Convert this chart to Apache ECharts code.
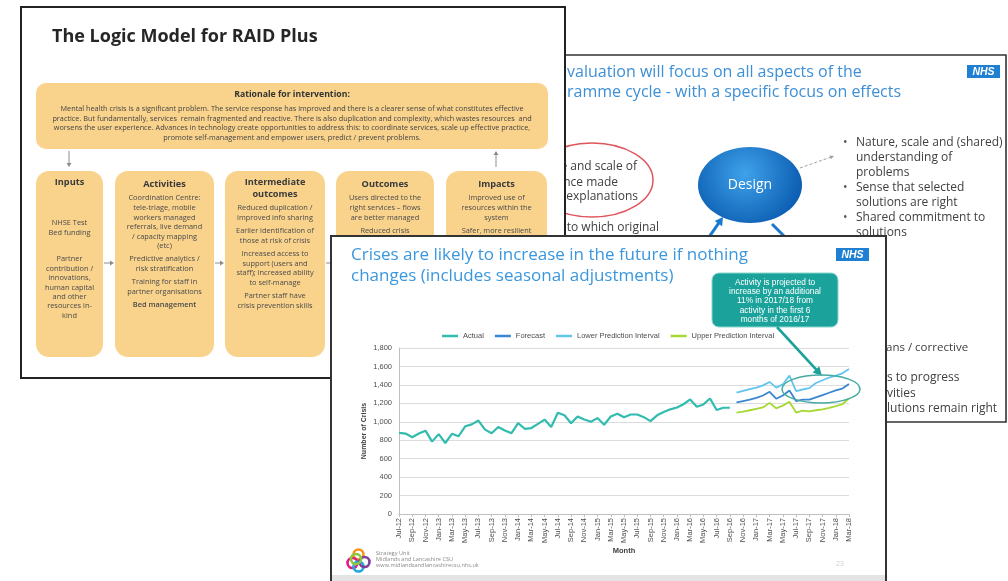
<!DOCTYPE html>
<html>
<head>
<meta charset="utf-8">
<script src="https://cdn.jsdelivr.net/npm/echarts@6/dist/echarts.min.js"></script>
<style>
  html, body { margin: 0; padding: 0; background: #fff; }
  #main { width: 1008px; height: 581px; }
</style>
</head>
<body>
<div id="main"></div>
<script>
// months on the x axis (Jul-12 .. Mar-18)
var months = [
  "Jul-12", "Aug-12", "Sep-12", "Oct-12", "Nov-12", "Dec-12",
  "Jan-13", "Feb-13", "Mar-13", "Apr-13", "May-13", "Jun-13", "Jul-13", "Aug-13", "Sep-13", "Oct-13", "Nov-13", "Dec-13",
  "Jan-14", "Feb-14", "Mar-14", "Apr-14", "May-14", "Jun-14", "Jul-14", "Aug-14", "Sep-14", "Oct-14", "Nov-14", "Dec-14",
  "Jan-15", "Feb-15", "Mar-15", "Apr-15", "May-15", "Jun-15", "Jul-15", "Aug-15", "Sep-15", "Oct-15", "Nov-15", "Dec-15",
  "Jan-16", "Feb-16", "Mar-16", "Apr-16", "May-16", "Jun-16", "Jul-16", "Aug-16", "Sep-16", "Oct-16", "Nov-16", "Dec-16",
  "Jan-17", "Feb-17", "Mar-17", "Apr-17", "May-17", "Jun-17", "Jul-17", "Aug-17", "Sep-17", "Oct-17", "Nov-17", "Dec-17",
  "Jan-18", "Feb-18", "Mar-18"
];

// Jul-12 .. Sep-16
var actual = [
  880, 872, 832, 872, 904, 785,
  866, 770, 870, 843, 951, 972, 1013, 915, 876, 944, 906, 876,
  985, 924, 932, 978, 1024, 943, 1097, 1070, 984, 1057, 1024, 1000,
  1040, 968, 1057, 1087, 1049, 1079, 1079, 1050, 1007, 1070, 1105, 1135,
  1155, 1190, 1242, 1163, 1188, 1253, 1127, 1152, 1152
];

// Oct-16 .. Mar-18
var forecast = [1210, 1225, 1240, 1260, 1285, 1325, 1250, 1285, 1340, 1225, 1240, 1240, 1265, 1290, 1315, 1340, 1360, 1410];
var lowerPI  = [1315, 1335, 1355, 1370, 1395, 1432, 1370, 1405, 1500, 1333, 1350, 1365, 1420, 1450, 1480, 1500, 1525, 1572];
var upperPI  = [1100, 1110, 1125, 1140, 1155, 1205, 1145, 1175, 1218, 1100, 1120, 1112, 1125, 1135, 1150, 1170, 1190, 1255];

var seriesNames = ["Actual", "Forecast", "Lower Prediction Interval", "Upper Prediction Interval"];
var yTicks = [0, 200, 400, 600, 800, 1000, 1200, 1400, 1600, 1800];

// pad the short series so they sit on the right months
function padFront(arr) {
  var out = [];
  for (var i = 0; i < months.length - arr.length; i++) out.push(null);
  return out.concat(arr);
}
function padBack(arr) {
  var out = arr.slice();
  while (out.length < months.length) out.push(null);
  return out;
}

var SLIDE_FONT = '"Open Sans", "Noto Sans", sans-serif';
var CHART_FONT = '"Liberation Sans", Arial, sans-serif';

// ---- little drawing helpers for the slide decoration ----
function T(x, y, text, o) {
  o = o || {};
  return {
    type: "text", z: o.z, silent: true,
    style: {
      text: text, x: x, y: y,
      fill: o.c || "#404040",
      fontSize: o.s || 7,
      fontFamily: o.f || SLIDE_FONT,
      fontWeight: o.w || "normal",
      fontStyle: o.i || "normal",
      align: o.a || "left", textAlign: o.a || "left",
      verticalAlign: "middle", textVerticalAlign: "middle"
    }
  };
}
function R(x, y, w, h, o) {
  return {
    type: "rect", z: o.z, silent: true,
    shape: { x: x, y: y, width: w, height: h, r: o.r || 0 },
    style: { fill: o.fill || "none", stroke: o.stroke || null, lineWidth: o.lw || 1 }
  };
}
function arrow(x1, y1, x2, y2, o) {
  var dx = x2 - x1, dy = y2 - y1, len = Math.sqrt(dx * dx + dy * dy);
  var ux = dx / len, uy = dy / len, hl = o.hl || 5, hw = (o.hw || 4) / 2;
  var bx = x2 - ux * hl, by = y2 - uy * hl;
  return [
    { type: "line", z: o.z, silent: true,
      shape: { x1: x1, y1: y1, x2: bx + ux * 0.5, y2: by + uy * 0.5 },
      style: { stroke: o.c, lineWidth: o.lw || 1, lineDash: o.dash || null } },
    { type: "polygon", z: o.z, silent: true,
      shape: { points: [[x2, y2], [bx - uy * hw, by + ux * hw], [bx + uy * hw, by - ux * hw]] },
      style: { fill: o.c } }
  ];
}
function nhs(x, y, z) {
  return [
    R(x, y, 33, 13, { fill: "#1f7fd3", z: z }),
    T(x + 16.5, y + 6.8, "NHS", { c: "#fff", s: 10.5, w: "bold", i: "italic", a: "center", f: CHART_FONT, z: z })
  ];
}

var els = [];
function add(a) { els = els.concat(a); }

// ---------- slide 2 (back, right) ----------
var z2 = -30;
add(R(500, 55, 506, 367, { fill: "#fff", stroke: "#333", lw: 1.6, z: z2 }));
add(T(567, 72, "valuation will focus on all aspects of the", { c: "#3d8fd6", s: 16, z: z2 }));
add(T(567, 92, "ramme cycle - with a specific focus on effects", { c: "#3d8fd6", s: 16, z: z2 }));
add(nhs(967, 65, z2));
add({ type: "ellipse", z: z2, silent: true, shape: { cx: 592, cy: 180, rx: 61, ry: 37 },
      style: { fill: "none", stroke: "#e0555c", lineWidth: 1.5 } });
add(T(637, 167, "Nature and scale of", { s: 12, a: "right", z: z2 }));
add(T(618, 183, "Evidence made", { s: 12, a: "right", z: z2 }));
add(T(638, 197, "and explanations", { s: 12, a: "right", z: z2 }));
add(T(659, 228, "Extent to which original", { s: 12, a: "right", z: z2 }));
add({ type: "ellipse", z: z2, silent: true, shape: { cx: 750, cy: 185, rx: 52, ry: 38 },
      style: { fill: { type: "radial", x: 0.45, y: 0.35, r: 0.75,
        colorStops: [{ offset: 0, color: "#3fa2ea" }, { offset: 1, color: "#0d5fb3" }] } } });
add(T(750, 185, "Design", { c: "#fff", s: 14, a: "center", z: z2 }));
add(arrow(800, 168, 834, 156, { c: "#a0a0a0", lw: 1, dash: [3, 2], hl: 4, hw: 4, z: z2 }));
add(arrow(700, 250, 723, 217, { c: "#1b78cf", lw: 3, hl: 8, hw: 9, z: z2 }));
add(arrow(772, 224, 800, 252, { c: "#1b78cf", lw: 3, hl: 8, hw: 9, z: z2 }));
var bulletLines = [
  ["Nature, scale and (shared)", 143, true], ["understanding of", 158], ["problems", 173],
  ["Sense that selected", 188, true], ["solutions are right", 203],
  ["Shared commitment to", 218, true], ["solutions", 233]
];
bulletLines.forEach(function (b) {
  if (b[2]) add(T(843, b[1], "•", { s: 12, c: "#555", z: z2 }));
  add(T(856, b[1], b[0], { s: 12, z: z2 }));
});
// the parts of these lines that show to the right of the front slide
add(T(886, 348, "ans / corrective", { s: 11.5, z: z2 }));
add(T(887, 378, "s to progress", { s: 12, z: z2 }));
add(T(887, 394, "vities", { s: 12, z: z2 }));
add(T(887, 409, "lutions remain right", { s: 12, z: z2 }));

// ---------- slide 1 (logic model, left) ----------
var z1 = -20, ORANGE = "#f9d38c";
add(R(21, 7, 544, 371, { fill: "#fff", stroke: "#222", lw: 2, z: z1 }));
add(T(52, 37, "The Logic Model for RAID Plus", { s: 18, w: "bold", c: "#262626", z: z1 }));
add(R(36, 83, 512, 66, { fill: ORANGE, r: 10, z: z1 }));
add(T(292, 95, "Rationale for intervention:", { s: 8.7, w: "bold", c: "#333", a: "center", z: z1 }));
[
  "Mental health crisis is a significant problem. The service response has improved and there is a clearer sense of what constitutes effective",
  "practice. But fundamentally, services  remain fragmented and reactive. There is also duplication and complexity, which wastes resources  and",
  "worsens the user experience. Advances in technology create opportunities to address this: to coordinate services, scale up effective practice,",
  "promote self-management and empower users, predict / prevent problems."
].forEach(function (s, i) {
  add(T(292, 109 + i * 9.5, s, { s: 7.3, a: "center", c: "#444", z: z1 }));
});
add(arrow(69, 151, 69, 167, { c: "#8c8c8c", lw: 1, hl: 4, hw: 5, z: z1 }));
add(arrow(496, 167, 496, 151, { c: "#8c8c8c", lw: 1, hl: 4, hw: 5, z: z1 }));

var boxes = [
  { x: 36, w: 67, title: [["Inputs", 182]], lines: [
    ["NHSE Test", 223], ["Bed funding", 232.5], ["Partner", 259], ["contribution /", 268.5], ["innovations,", 278],
    ["human capital", 287.5], ["and other", 297], ["resources in-", 306], ["kind", 315.5]] },
  { x: 115, w: 99, title: [["Activities", 184]], lines: [
    ["Coordination Centre:", 198], ["tele-triage, mobile", 208], ["workers managed", 217.5], ["referrals, live demand", 227],
    ["/ capacity mapping", 236.5], ["(etc)", 246], ["Predictive analytics /", 259], ["risk stratification", 268.5],
    ["Training for staff in", 282], ["partner organisations", 291.5], ["Bed management", 305, true]] },
  { x: 225, w: 100, title: [["Intermediate", 182.5], ["outcomes", 194]], lines: [
    ["Reduced duplication /", 208], ["improved info sharing", 218], ["Earlier identification of", 231],
    ["those at risk of crisis", 240.5], ["Increased access to", 254], ["support (users and", 263.5],
    ["staff); increased ability", 273], ["to self-manage", 282.5], ["Partner staff have", 296], ["crisis prevention skills", 305.5]] },
  { x: 336, w: 98, title: [["Outcomes", 184]], lines: [
    ["Users directed to the", 198], ["right services – flows", 208], ["are better managed", 217.5], ["Reduced crisis", 231]] },
  { x: 446, w: 101, title: [["Impacts", 184]], lines: [
    ["Improved use of", 198], ["resources within the", 208], ["system", 217.5], ["Safer, more resilient", 231]] }
];
boxes.forEach(function (b, i) {
  add(R(b.x, 171, b.w, 186, { fill: ORANGE, r: 13, z: z1 }));
  var cx = b.x + b.w / 2;
  b.title.forEach(function (t) { add(T(cx, t[1], t[0], { s: 9.2, w: "bold", c: "#3a3a3a", a: "center", z: z1 })); });
  b.lines.forEach(function (t) { add(T(cx, t[1], t[0], { s: 7.4, w: t[2] ? 600 : "normal", c: "#4a4a4a", a: "center", z: z1 })); });
  if (i < boxes.length - 1) {
    var nx = boxes[i + 1].x;
    add(arrow(b.x + b.w + 1, 263, nx - 1, 263, { c: "#8c8c8c", lw: 1, hl: 4, hw: 5, z: z1 }));
  }
});

// ---------- slide 3 (front, chart) ----------
var z3 = -10;
add(R(331, 236, 555, 350, { fill: "#fff", stroke: "#333", lw: 2, z: z3 }));
add(R(332, 575, 553, 6, { fill: "#e4e4e4", z: z3 }));
add(T(351, 255, "Crises are likely to increase in the future if nothing", { c: "#3a97de", s: 17, z: z3 }));
add(T(351, 276, "changes (includes seasonal adjustments)", { c: "#3a97de", s: 17, z: z3 }));
add(nhs(836, 248, z3));
// footer logo (interlocking rings) and text
[["#f7941d", 358.5, 554.5], ["#e5197e", 352.5, 563], ["#1fa8e0", 358.5, 566.5], ["#7d3f98", 364.5, 562], ["#8dc63f", 356, 559]]
  .forEach(function (c) {
    add({ type: "circle", z: z3, silent: true, shape: { cx: c[1], cy: c[2], r: 5 },
          style: { fill: "none", stroke: c[0], lineWidth: 2.6 } });
  });
add(T(376, 553, "Strategy Unit", { s: 5.6, c: "#8a8a8a", z: z3 }));
add(T(376, 559, "Midlands and Lancashire CSU", { s: 5.6, c: "#8a8a8a", z: z3 }));
add(T(376, 565, "www.midlandsandlancashirecsu.nhs.uk", { s: 5.6, c: "#8a8a8a", z: z3 }));
add(T(840, 564, "23", { s: 7, c: "#cfcfcf", a: "center", z: z3 }));

// ---------- overlays on top of the chart ----------
var zo = 20;
add(R(712, 273, 126, 54, { fill: "#1ba39b", stroke: "#8ad6cf", lw: 1, r: 7, z: zo }));
[
  "Activity is projected to", "increase by an additional", "11% in 2017/18 from",
  "activity in the first 6", "months of 2016/17"
].forEach(function (s, i) {
  add(T(775, 282.5 + i * 9.3, s, { s: 8.3, c: "#fff", a: "center", f: CHART_FONT, z: zo }));
});
add(arrow(777, 327, 822, 376, { c: "#1ba39b", lw: 2.6, hl: 9, hw: 9, z: zo }));
add({ type: "ellipse", z: zo, silent: true, shape: { cx: 821, cy: 389, rx: 39, ry: 14 },
      style: { fill: "none", stroke: "#45aba1", lineWidth: 1.5 } });

var chart = echarts.init(document.getElementById("main"), null, { renderer: "canvas" });

var option = {
  animation: false,
  backgroundColor: "#fff",
  textStyle: { fontFamily: CHART_FONT },
  legend: {
    left: 442, top: 332, padding: 0, itemGap: 11, itemWidth: 16, itemHeight: 2.5,
    icon: "rect",
    data: seriesNames,
    textStyle: { fontSize: 7.5, color: "#4d4d4d", fontFamily: CHART_FONT }
  },
  grid: { left: 399, right: 159, top: 348, bottom: 67 },
  xAxis: {
    type: "category",
    data: months,
    boundaryGap: false,
    name: "Month", nameLocation: "middle", nameGap: 31,
    nameTextStyle: { fontSize: 7.5, fontWeight: "bold", color: "#404040" },
    axisLine: { lineStyle: { color: "#bfbfbf" } },
    axisTick: { interval: 1, length: 3, lineStyle: { color: "#bfbfbf" } },
    axisLabel: { interval: 1, rotate: 90, fontSize: 7.5, color: "#4d4d4d", margin: 4 }
  },
  yAxis: {
    type: "value",
    min: yTicks[0], max: yTicks[yTicks.length - 1], interval: 200,
    name: "Number of Crisis", nameLocation: "middle", nameGap: 31, nameRotate: 90,
    nameTextStyle: { fontSize: 7, fontWeight: "bold", color: "#404040" },
    axisLine: { show: true, lineStyle: { color: "#bfbfbf" } },
    axisTick: { show: false },
    splitLine: { lineStyle: { color: "#dcdcdc" } },
    axisLabel: {
      fontSize: 7.5, color: "#4d4d4d", margin: 7,
      formatter: function (v) { return v.toLocaleString("en-US"); }
    }
  },
  series: [
    { name: seriesNames[0], type: "line", data: padBack(actual), showSymbol: false,
      lineStyle: { width: 2.2, color: "#31bcaf" }, itemStyle: { color: "#31bcaf" } },
    { name: seriesNames[1], type: "line", data: padFront(forecast), showSymbol: false,
      lineStyle: { width: 1.8, color: "#3a86d0" }, itemStyle: { color: "#3a86d0" } },
    { name: seriesNames[2], type: "line", data: padFront(lowerPI), showSymbol: false,
      lineStyle: { width: 1.8, color: "#62c5ef" }, itemStyle: { color: "#62c5ef" } },
    { name: seriesNames[3], type: "line", data: padFront(upperPI), showSymbol: false,
      lineStyle: { width: 1.8, color: "#a6d832" }, itemStyle: { color: "#a6d832" } }
  ],
  graphic: { elements: els }
};

chart.setOption(option);
</script>
</body>
</html>
